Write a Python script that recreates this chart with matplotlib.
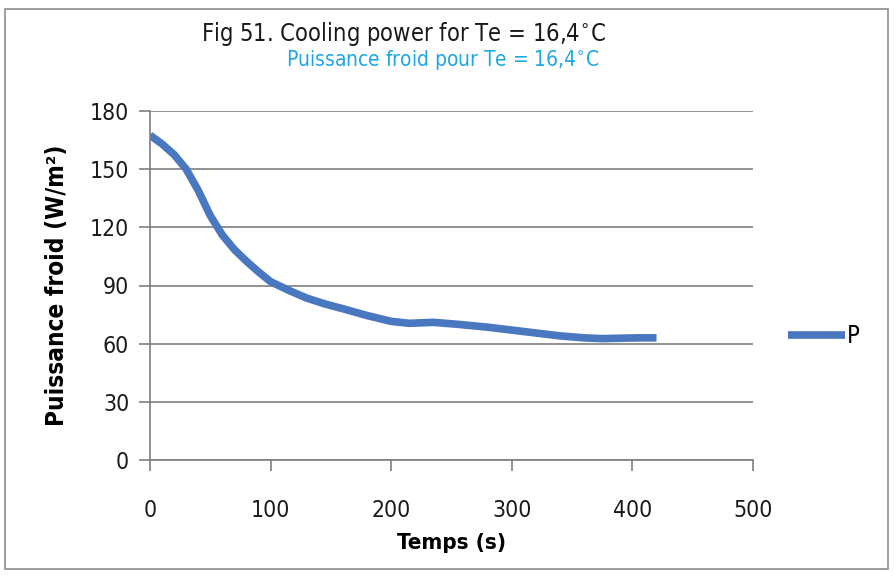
import matplotlib
matplotlib.use("Agg")
import matplotlib.pyplot as plt
from matplotlib.patches import Rectangle
from matplotlib import font_manager

# Cooling power over time
temps_s = [0, 10, 20, 30, 40, 50, 60, 70, 80, 90, 100, 115, 130, 145, 160, 180,
           200, 215, 235, 255, 280, 300, 320, 340, 360, 375, 390, 405, 420]
puissance_w_m2 = [167.5, 163, 157.5, 150, 139, 126, 116, 108.5, 102.5, 97, 92, 87.5,
                  83.5, 80.5, 78, 74.5, 71.5, 70.5, 71, 70, 68.5, 67, 65.5, 64, 63,
                  62.6, 62.8, 63, 63]

x_ticks = [0, 100, 200, 300, 400, 500]
y_ticks = [0, 30, 60, 90, 120, 150, 180]

title_en = "Fig 51. Cooling power for Te = 16,4$^{\\circ}$C"
title_fr = "Puissance froid pour Te = 16,4$^{\\circ}$C"
series_name = "P"

names = {f.name for f in font_manager.fontManager.ttflist}
narrow = "Liberation Sans Narrow" if "Liberation Sans Narrow" in names else "DejaVu Sans"
fam = [narrow, "DejaVu Sans"]
stretch = "normal" if narrow == "Liberation Sans Narrow" else "condensed"

fig = plt.figure(figsize=(8.94, 5.78), dpi=100)
fig.patch.set_facecolor("white")

# Outer frame of the chart
fig.add_artist(Rectangle((5 / 894, 1 - 569 / 578), 883 / 894, 560 / 578,
                         transform=fig.transFigure, fill=False,
                         edgecolor="#8c8c8c", linewidth=1.2))

ax = fig.add_axes([150 / 894, 1 - 460 / 578, 603 / 894, 349 / 578])
line_color = "#4a78c0"
ax.plot(temps_s, puissance_w_m2, color=line_color, linewidth=5.5,
        solid_capstyle="butt", solid_joinstyle="round", label=series_name)

ax.set_xlim(0, 500)
ax.set_ylim(0, 180)
ax.set_xticks(x_ticks)
ax.set_yticks(y_ticks)
ax.yaxis.grid(True, color="#7f7f7f", linewidth=1.2)
ax.set_axisbelow(True)

for side in ("top", "right"):
    ax.spines[side].set_visible(False)
for side in ("left", "bottom"):
    ax.spines[side].set_color("#7f7f7f")
    ax.spines[side].set_linewidth(1.2)

ax.tick_params(axis="both", colors="#7f7f7f", width=1.2, length=8,
               labelsize=16.5, labelcolor="#1a1a1a")
ax.tick_params(axis="x", pad=20)
ax.tick_params(axis="y", pad=7)
for lab in ax.get_xticklabels() + ax.get_yticklabels():
    lab.set_fontfamily(fam)
    lab.set_fontstretch(stretch)

ax.set_xlabel("Temps (s)", fontsize=16, fontweight="bold",
              fontfamily=fam, fontstretch=stretch, labelpad=8)
ax.set_ylabel("Puissance froid (W/m²)", fontsize=17.5, fontweight="bold",
              fontfamily=fam, fontstretch=stretch, labelpad=15)

fig.text(404 / 894, 1 - 34 / 578, title_en, fontsize=17, color="#1a1a1a",
         ha="center", va="center", fontfamily=fam, fontstretch=stretch)
fig.text(443 / 894, 1 - 60 / 578, title_fr, fontsize=15, color="#1ea7e1",
         ha="center", va="center", fontfamily=fam, fontstretch=stretch)

leg = fig.legend(loc="center left", bbox_to_anchor=(788 / 894, 1 - 336 / 578),
                 frameon=False, fontsize=17, handlelength=2.4, handletextpad=0.1,
                 borderpad=0, borderaxespad=0)
for t in leg.get_texts():
    t.set_fontfamily(fam)
    t.set_fontstretch(stretch)

fig.savefig("out.png", dpi=100, facecolor="white")
